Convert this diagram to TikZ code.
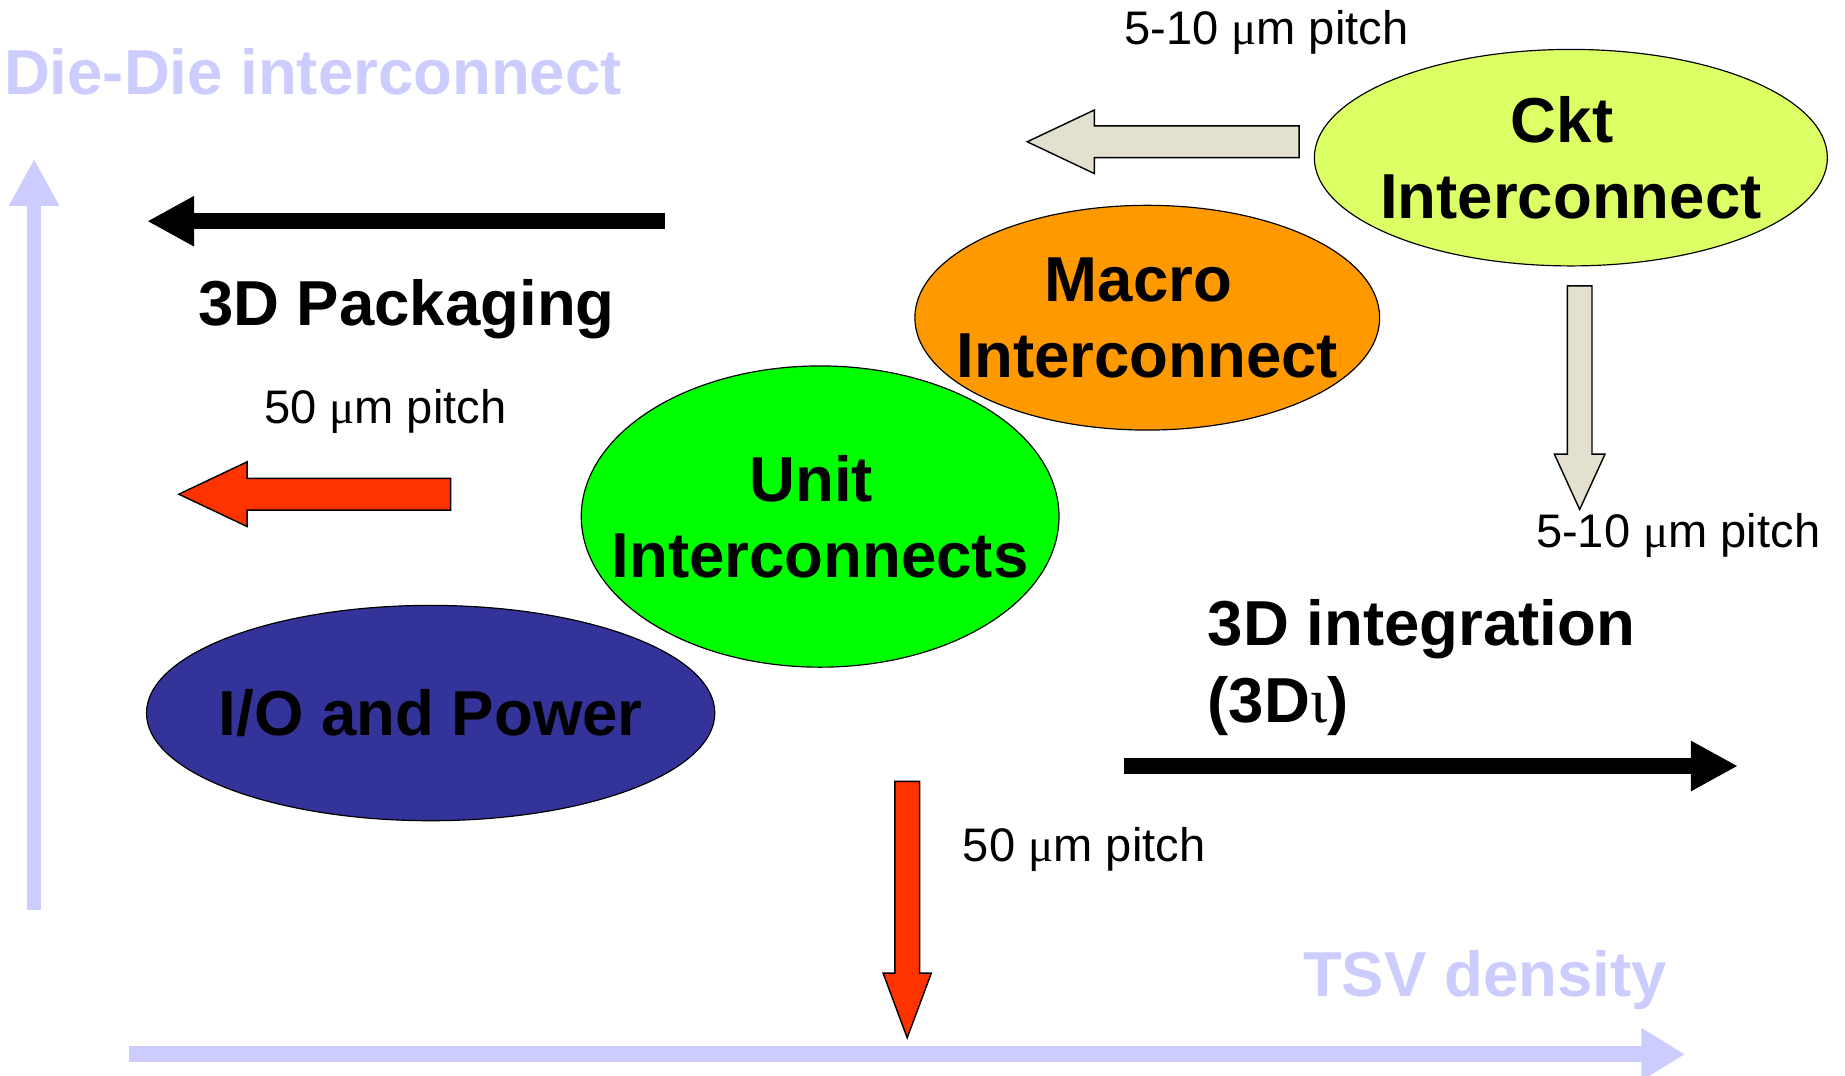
\documentclass[tikz,border=0pt]{standalone}
\usepackage{fontspec}
\setmainfont{Liberation Sans}
\newfontfamily\greekfont{Liberation Serif}
\usetikzlibrary{shapes.geometric,arrows.meta}

\definecolor{axisblue}{HTML}{CCCCFF}
\definecolor{cktgreen}{HTML}{DDFF66}
\definecolor{macroorange}{HTML}{FF9900}
\definecolor{unitgreen}{HTML}{00FF00}
\definecolor{ioblue}{HTML}{333399}
\definecolor{pitchred}{HTML}{FF3300}
\definecolor{pitchbeige}{HTML}{E3E0CF}

\newcommand{\um}{{\greekfont μ}m}
\newcommand{\tsp}{\hspace*{0.278em}} % trailing space, as in the slide

\tikzset{
  blob/.style={draw, ellipse, inner sep=0pt, line width=0.5pt},
  bigtext/.style={inner sep=0pt, align=center, font=\bfseries\fontsize{27}{32.5}\selectfont},
  pitchtext/.style={inner sep=0pt, font=\fontsize{20}{24}\selectfont},
  axisarrow/.style={axisblue, line width=6.5pt},
  trendarrow/.style={black, line width=6.75pt, -{Triangle[length=20pt,width=20pt]}},
  blockarrow/.style={draw=black, line width=0.6pt, line join=miter}
}

\begin{document}
\begin{tikzpicture}[x=0.5pt, y=-0.5pt]
\useasboundingbox (0,0) rectangle (1568,914);

% axes
\coordinate (ybot) at (29,773);
\coordinate (ytop) at (29,135);
\coordinate (xleft) at (110,896);
\coordinate (xright) at (1432,896);
\draw[axisarrow, line width=6.25pt, -{Triangle[length=20pt,width=20pt]}] (ybot) -- (ytop);
\draw[axisarrow, line width=6.75pt, -{Triangle[length=18.5pt,width=21pt]}] (xleft) -- (xright);
\node[bigtext, axisblue, anchor=base west] (ylabel) at (3,80) {Die-Die interconnect};
\node[bigtext, axisblue, anchor=base] (xlabel) at (1262,847) {TSV density};

% interconnect levels (shape first, text on top)
\node[blob, fill=cktgreen, minimum width=218pt, minimum height=92pt] (ckt) at (1335,134) {};
\node[blob, fill=macroorange, minimum width=197.5pt, minimum height=95.5pt] (macro) at (975,270) {};
\node[blob, fill=unitgreen, minimum width=203pt, minimum height=128pt] (unit) at (697,439) {};
\node[blob, fill=ioblue, minimum width=241.5pt, minimum height=91.5pt] (io) at (366,606) {};
\node[bigtext] (ckt text) at (ckt.center) {Ckt\tsp\\Interconnect};
\node[bigtext] (macro text) at (macro.center) {Macro\tsp\\Interconnect};
\node[bigtext] (unit text) at (unit.center) {Unit\tsp\\Interconnects};
\node[bigtext] (io text) at (io.center) {I/O and Power};

% 3D packaging / 3D integration
\coordinate (pkgstart) at (565,188);
\coordinate (pkgend) at (125,188);
\draw[trendarrow] (pkgstart) -- (pkgend);
\node[bigtext, anchor=base west] (pkg) at (168,277) {3D Packaging};

\coordinate (intstart) at (955,651);
\coordinate (intend) at (1477,651);
\draw[trendarrow] (intstart) -- (intend);
\node[bigtext, anchor=base west] (integ) at (1026,549) {3D integration};
\node[bigtext, anchor=base west] (integ2) at (1026,614) {(3D{\greekfont\mdseries ι})};

% pitch arrows
\draw[blockarrow, fill=pitchbeige] (1104,107) -- (930,107) -- (930,93.5) -- (873,120.5)
  -- (930,147.5) -- (930,134) -- (1104,134) -- cycle;
\draw[blockarrow, fill=pitchbeige] (1332,243) -- (1332,386) -- (1321,386) -- (1342.5,433)
  -- (1364,386) -- (1353,386) -- (1353,243) -- cycle;
\draw[blockarrow, fill=pitchred] (383,406.5) -- (210,406.5) -- (210,392.5) -- (152,420)
  -- (210,447.5) -- (210,433.5) -- (383,433.5) -- cycle;
\draw[blockarrow, fill=pitchred] (760.5,664) -- (760.5,827) -- (750.5,827) -- (771,882)
  -- (791.5,827) -- (781.5,827) -- (781.5,664) -- cycle;

\node[pitchtext, anchor=base west] (p1) at (955,38) {5-10 \um{} pitch};
\node[pitchtext, anchor=base west] (p2) at (1305,465) {5-10 \um{} pitch};
\node[pitchtext, anchor=base west] (p3) at (224,360) {50 \um{} pitch};
\node[pitchtext, anchor=base west] (p4) at (818,732) {50 \um{} pitch};

\end{tikzpicture}
\end{document}
